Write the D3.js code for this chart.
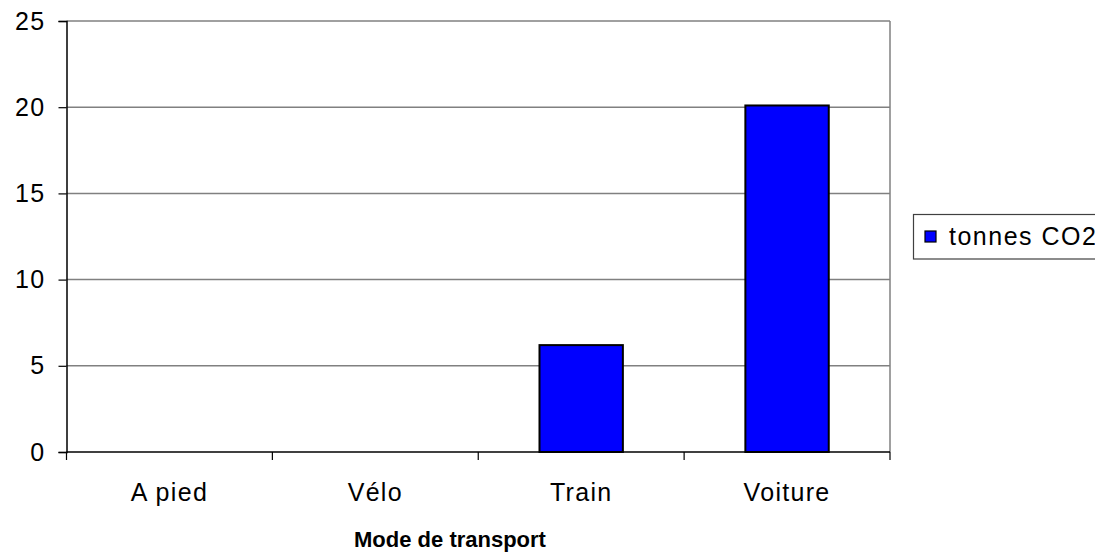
<!DOCTYPE html>
<html>
<head>
<meta charset="utf-8">
<script src="https://cdn.jsdelivr.net/npm/d3@7"></script>
<style>
  body { margin: 0; background: #fff; }
  svg { display: block; font-family: "Liberation Sans", Arial, sans-serif; }
</style>
</head>
<body>
<div class="graph"></div>
<script>
var width = 1095,
    height = 555;

var categories = ["A pied", "Vélo", "Train", "Voiture"];
var values = [0, 0, 6.2, 20.1];
var yTicks = [0, 5, 10, 15, 20, 25];
var seriesName = "tonnes CO2";
var xTitle = "Mode de transport";

// plot area edges
var plotLeft = 66.5, plotRight = 890, plotTop = 21, plotBottom = 452;

var svg = d3.select(".graph").append("svg")
    .attr("width", width)
    .attr("height", height);

var x = d3.scaleBand()
    .domain(categories)
    .range([plotLeft, plotRight])
    .padding(0);

var y = d3.scaleLinear()
    .domain([0, 25])
    .range([plotBottom, plotTop]);

// gridlines
svg.append("g").selectAll("line")
    .data(yTicks.filter(function(d) { return d > 0; }))
    .enter().append("line")
      .attr("x1", plotLeft).attr("x2", plotRight)
      .attr("y1", function(d) { return y(d); })
      .attr("y2", function(d) { return y(d); })
      .attr("stroke", "#808080")
      .attr("stroke-width", 1.5);

// right border
svg.append("line")
    .attr("x1", plotRight).attr("x2", plotRight)
    .attr("y1", plotTop).attr("y2", plotBottom)
    .attr("stroke", "#808080")
    .attr("stroke-width", 1.5);

// bars
var barW = x.bandwidth() * 0.405;
svg.append("g").selectAll("rect")
    .data(values)
    .enter().append("rect")
      .attr("x", function(d, i) { return x(categories[i]) + (x.bandwidth() - barW) / 2; })
      .attr("y", function(d) { return y(d); })
      .attr("width", barW)
      .attr("height", function(d) { return y(0) - y(d); })
      .attr("fill", "#0000ff")
      .attr("stroke", "#000")
      .attr("stroke-width", 2)
      .style("display", function(d) { return d > 0 ? null : "none"; });

// y axis
var yAxis = d3.axisLeft(y)
    .tickValues(yTicks)
    .tickSize(8)
    .tickPadding(13);

svg.append("g")
    .attr("transform", "translate(" + plotLeft + ",0)")
    .call(yAxis)
    .call(function(g) {
      g.select(".domain").attr("stroke", "#000").attr("stroke-width", 1.5);
      g.selectAll(".tick line").attr("stroke", "#000").attr("stroke-width", 1.2);
      g.selectAll(".tick text").attr("font-size", 25).attr("fill", "#000")
        .attr("letter-spacing", 1.3)
        .attr("font-family", "Liberation Sans, Arial, sans-serif");
    });

// x axis line
svg.append("line")
    .attr("x1", plotLeft).attr("x2", plotRight)
    .attr("y1", plotBottom).attr("y2", plotBottom)
    .attr("stroke", "#000")
    .attr("stroke-width", 1.5);

// x ticks at band boundaries
var bounds = categories.map(function(c) { return x(c); }).concat([plotRight]);
svg.append("g").selectAll("line")
    .data(bounds)
    .enter().append("line")
      .attr("x1", function(d) { return d; }).attr("x2", function(d) { return d; })
      .attr("y1", plotBottom).attr("y2", plotBottom + 8)
      .attr("stroke", "#000")
      .attr("stroke-width", 1.2);

// x labels
svg.append("g").selectAll("text")
    .data(categories)
    .enter().append("text")
      .attr("x", function(d) { return x(d) + x.bandwidth() / 2; })
      .attr("y", 501)
      .attr("text-anchor", "middle")
      .attr("font-size", 25)
      .attr("letter-spacing", 1.3)
      .text(function(d) { return d; });

// x title (centred on the whole chart, not the plot)
svg.append("text")
    .attr("x", 450)
    .attr("y", 546.5)
    .attr("text-anchor", "middle")
    .attr("font-size", 22)
    .attr("font-weight", "bold")
    .text(xTitle);

// legend
var legend = svg.append("g");
legend.append("rect")
    .attr("x", 913.5).attr("y", 214.5)
    .attr("width", 200).attr("height", 44.5)
    .attr("fill", "#fff")
    .attr("stroke", "#404040")
    .attr("stroke-width", 1.2);
legend.append("rect")
    .attr("x", 925).attr("y", 231)
    .attr("width", 11).attr("height", 11)
    .attr("fill", "#0000ff")
    .attr("stroke", "#000")
    .attr("stroke-width", 1.2);
legend.append("text")
    .attr("x", 949)
    .attr("y", 245)
    .attr("font-size", 25)
    .attr("letter-spacing", 1.5)
    .text(seriesName);
</script>
</body>
</html>
